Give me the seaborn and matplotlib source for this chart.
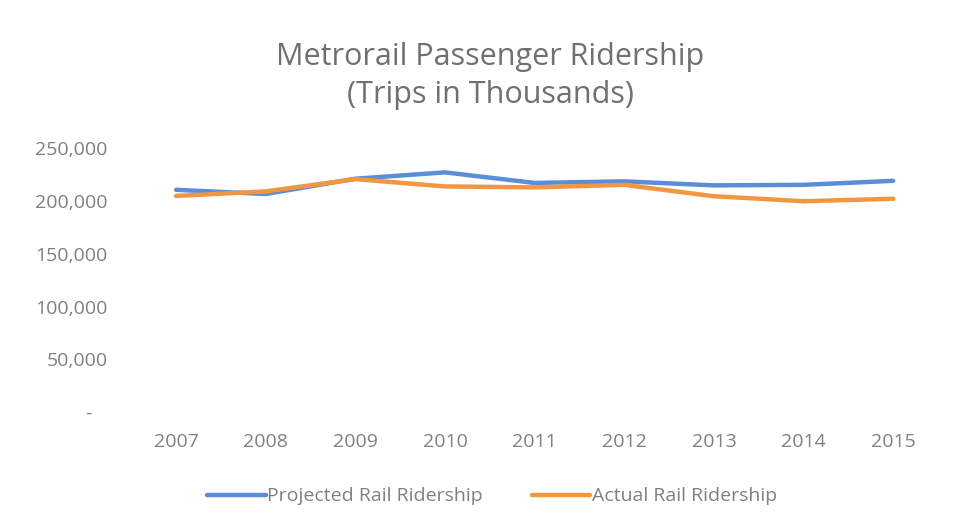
import numpy as np
import pandas as pd

import matplotlib.pyplot as plt
import matplotlib.ticker as mticker
import seaborn as sns

# Datos (miles de viajes)
years = [2007, 2008, 2009, 2010, 2011, 2012, 2013, 2014, 2015]
projected = [210500, 206500, 221000, 227000, 217000, 218500, 214700, 215200, 219000]
actual = [204700, 209000, 220600, 213700, 212800, 215200, 204400, 199700, 202000]

df = pd.DataFrame({
    "year": years * 2,
    "trips": projected + actual,
    "serie": ["Projected Rail Ridership"] * len(years) + ["Actual Rail Ridership"] * len(years)
})

sns.set_style("white")
plt.rcParams["font.family"] = ["Open Sans", "DejaVu Sans"]

gris = "#808080"
azul = "#5B8ED8"
naranja = "#F29740"

fig = plt.figure(figsize=(9.65, 5.27), dpi=100)
ax = fig.add_axes([0.136, 0.218, 0.836, 0.501])

sns.lineplot(
    data=df,
    x="year",
    y="trips",
    hue="serie",
    palette=[azul, naranja],
    linewidth=3.2,
    ax=ax,
    legend=False
)

ax.set_xlim(2006.5, 2015.5)
ax.set_ylim(0, 250000)
ax.set_xticks(years)
ax.set_yticks(np.arange(0, 250001, 50000))


def fmt(v, pos):
    if v == 0:
        return "-   "
    return f"{v:,.0f}"


ax.yaxis.set_major_formatter(mticker.FuncFormatter(fmt))
ax.tick_params(axis="both", length=0, labelsize=14, labelcolor=gris)
ax.tick_params(axis="y", pad=17)
ax.tick_params(axis="x", pad=15)
ax.set_xlabel("")
ax.set_ylabel("")
for s in ax.spines.values():
    s.set_visible(False)

fig.text(
    0.508, 0.856,
    "Metrorail Passenger Ridership\n(Trips in Thousands)",
    ha="center", va="center", fontsize=22, color="#707070",
    linespacing=1.35
)

handles = [
    plt.Line2D([0], [0], color=azul, lw=3.2),
    plt.Line2D([0], [0], color=naranja, lw=3.2),
]
fig.legend(
    handles,
    ["Projected Rail Ridership", "Actual Rail Ridership"],
    loc="center",
    bbox_to_anchor=(0.51, 0.058),
    ncol=2,
    frameon=False,
    fontsize=14,
    labelcolor=gris,
    handlelength=3,
    handletextpad=0.1,
    columnspacing=2.5
)

plt.savefig("out.png", dpi=100)
